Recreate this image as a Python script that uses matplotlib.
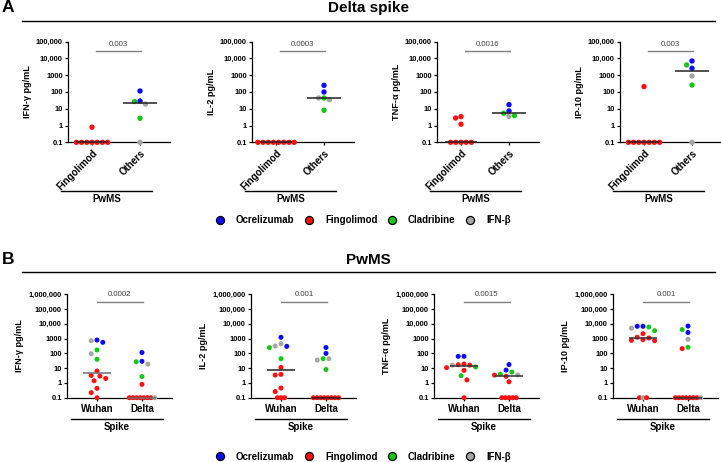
import numpy as np
import matplotlib
matplotlib.use('Agg')
import matplotlib.pyplot as plt
from matplotlib.lines import Line2D
import matplotlib.transforms as mtransforms

plt.rcParams['font.family'] = ['Liberation Sans', 'DejaVu Sans']

# ---------------- data ----------------
drug_codes = ['O', 'F', 'C', 'I']
drug_names = ['Ocrelizumab', 'Fingolimod', 'Cladribine', 'IFN-β']
drug_colors = ['#0a0aff', '#ff1010', '#16c816', '#a6a6a6']

cytokines = ['IFN-γ', 'IL-2', 'TNF-α', 'IP-10']
a_groups = ['Fingolimod', 'Others']
b_groups = ['Wuhan', 'Delta']
a_pvalues = ['0.003', '0.0003', '0.0016', '0.003']
b_pvalues = ['0.0002', '0.001', '0.0015', '0.001']

# Panel A: Delta spike (Fingolimod vs Others)
ifng_fingo = [0.8, 0.1, 0.1, 0.1, 0.1, 0.1, 0.1, 0.1]
ifng_others = [115, 29, 27, 19, 2.7, 0.1]
ifng_others_drug = ['O', 'O', 'C', 'I', 'C', 'I']

il2_fingo = [0.1, 0.1, 0.1, 0.1, 0.1, 0.1, 0.1, 0.1]
il2_others = [250, 100, 44, 44, 35, 8.1]
il2_others_drug = ['O', 'O', 'C', 'I', 'I', 'C']

tnf_fingo = [3.4, 2.8, 1.2, 0.1, 0.1, 0.1, 0.1, 0.1]
tnf_others = [17.6, 7.4, 5.4, 3.9, 3.5]
tnf_others_drug = ['O', 'O', 'C', 'C', 'I']

ip10_fingo = [210, 0.1, 0.1, 0.1, 0.1, 0.1, 0.1, 0.1]
ip10_others = [7100, 4100, 2600, 900, 260, 0.1]
ip10_others_drug = ['O', 'C', 'O', 'I', 'C', 'I']

# Panel B: Wuhan spike (Delta spike = panel A values pooled)
ifng_wuhan = [800, 720, 560, 170, 95, 40, 6.4, 3.2, 2.9, 2.0, 1.4, 0.43, 0.22, 0.1]
ifng_wuhan_drug = ['O', 'I', 'O', 'C', 'I', 'C', 'F', 'F', 'F', 'F', 'F', 'F', 'F', 'F']

il2_wuhan = [1230, 450, 316, 300, 245, 44, 11.3, 3.8, 3.4, 0.45, 0.26, 0.1, 0.1, 0.1]
il2_wuhan_drug = ['O', 'I', 'I', 'O', 'C', 'C', 'F', 'F', 'F', 'F', 'F', 'F', 'F', 'F']

tnf_wuhan = [63, 63, 19, 17, 16, 16, 12, 10.8, 7.1, 3.1, 1.6, 0.1]
tnf_wuhan_drug = ['O', 'O', 'F', 'F', 'F', 'I', 'C', 'F', 'F', 'C', 'F', 'F']

ip10_wuhan = [6800, 6800, 6100, 5000, 3450, 2150, 1230, 1100, 850, 760, 720, 0.1, 0.1, 0.1]
ip10_wuhan_drug = ['O', 'O', 'C', 'I', 'C', 'F', 'F', 'F', 'F', 'F', 'F', 'F', 'I', 'F']

a_data = [
    (ifng_fingo, ifng_others, ifng_others_drug),
    (il2_fingo, il2_others, il2_others_drug),
    (tnf_fingo, tnf_others, tnf_others_drug),
    (ip10_fingo, ip10_others, ip10_others_drug),
]
b_wuhan = [
    (ifng_wuhan, ifng_wuhan_drug),
    (il2_wuhan, il2_wuhan_drug),
    (tnf_wuhan, tnf_wuhan_drug),
    (ip10_wuhan, ip10_wuhan_drug),
]

color_of = dict(zip(drug_codes, drug_colors))
FLOOR = 0.1

# ---------------- figure ----------------
W, H = 721, 462
fig = plt.figure(figsize=(W / 100, H / 100), dpi=100)


def fx(px):
    return px / W


def fy(py):
    return 1 - py / H


def make_ax(left, width, top, bottom):
    return fig.add_axes([fx(left), fy(bottom), width / W, (bottom - top) / H])


def swarm(ax, xc, vals, min_dist, step, floor_sp):
    """Beeswarm layout in pixel space; values on the axis floor form a centred row."""
    vals = np.asarray(vals, dtype=float)
    pts = ax.transData.transform(np.column_stack([np.full(len(vals), xc), vals]))
    xs = pts[:, 0].copy()
    floor_idx = [i for i in range(len(vals)) if vals[i] <= FLOOR]
    n = len(floor_idx)
    for k, i in enumerate(floor_idx):
        xs[i] = pts[i, 0] + (k - (n - 1) / 2) * floor_sp
    rest = [i for i in np.argsort(-vals, kind='stable') if vals[i] > FLOOR]
    cands = [0]
    for m in range(1, 80):
        cands += [-m, m]
    placed = []
    for i in rest:
        px, py = pts[i]
        x = px
        for c in cands:
            x = px + c * step
            if all((x - qx) ** 2 + (py - qy) ** 2 >= min_dist ** 2 - 1e-6 for qx, qy in placed):
                break
        placed.append((x, py))
        xs[i] = x
    back = ax.transData.inverted().transform(np.column_stack([xs, pts[:, 1]]))
    return back[:, 0]


def yfmt(v):
    if v < 1:
        return '0.1'
    if v < 10000:
        return '%d' % v
    return '{:,}'.format(int(v))


def style_axis(ax, ymax, ylabel):
    ax.set_yscale('log')
    ax.set_ylim(FLOOR, ymax)
    ticks = [10.0 ** k for k in range(-1, int(round(np.log10(ymax))) + 1)]
    ax.set_yticks(ticks)
    ax.set_yticklabels([yfmt(t) for t in ticks], fontsize=5.4, fontweight='bold')
    ax.yaxis.set_minor_locator(matplotlib.ticker.NullLocator())
    ax.tick_params(axis='y', length=2.5, width=0.9, pad=1.2)
    ax.tick_params(axis='x', length=2, width=0.9)
    for s in ['top', 'right']:
        ax.spines[s].set_visible(False)
    for s in ['left', 'bottom']:
        ax.spines[s].set_linewidth(0.9)
        ax.spines[s].set_zorder(1)
    ax.set_ylabel(ylabel + ' pg/mL', fontsize=6.6, fontweight='bold', labelpad=3)
    ax.patch.set_alpha(0)


def draw_group(ax, xc, vals, drugs, s, min_dist, step, floor_sp, half, mcol):
    xs = swarm(ax, xc, vals, min_dist, step, floor_sp)
    cols = [color_of[d] for d in drugs]
    ax.scatter(xs, vals, s=s, c=cols, linewidths=0, clip_on=False, zorder=3)
    med = np.median(vals)
    ax.plot([xc - half, xc + half], [med, med], color=mcol, lw=1.1, zorder=4,
            clip_on=False, solid_capstyle='butt')


def sig_bar(ax, x0, x1, ybar, ytxt, txt):
    tr = mtransforms.blended_transform_factory(ax.transData, ax.transAxes)
    ax.plot([x0, x1], [ybar, ybar], color='#7f7f7f', lw=1.0, transform=tr, clip_on=False)
    ax.text((x0 + x1) / 2, ytxt, txt, transform=tr, ha='center', va='center',
            fontsize=5.6, color='#404040')


def legend_at(ypx):
    handles = [Line2D([], [], marker='o', ls='none', markersize=5.8, markerfacecolor=c,
                      markeredgecolor='black', markeredgewidth=0.9) for c in drug_colors]
    leg = fig.legend(handles, drug_names, loc='center', bbox_to_anchor=(fx(363), fy(ypx)),
                     ncol=4, frameon=False, handlelength=1.0, handletextpad=1.15,
                     columnspacing=1.0, borderpad=0, prop={'weight': 'bold', 'size': 7})
    return leg


def header(letter, title, ytxt, yline):
    fig.text(fx(2), fy(ytxt), letter, fontsize=12.5, fontweight='bold', ha='left', va='center')
    fig.text(fx(368.5), fy(ytxt), title, fontsize=11, fontweight='bold', ha='center', va='center')
    fig.add_artist(Line2D([fx(22), fx(715)], [fy(yline), fy(yline)], color='black', lw=1.0))


# ---------------- Panel A ----------------
header('A', 'Delta spike', 8, 20.5)
a_lefts = [68, 252, 437, 620]
for i, (cyt, (fv, ov, od)) in enumerate(zip(cytokines, a_data)):
    ax = make_ax(a_lefts[i], 102, 41.7, 142.3)
    ax.set_xlim(-0.5, 1.625)
    style_axis(ax, 1e5, cyt)
    draw_group(ax, 0, fv, ['F'] * len(fv), 15, 5.4, 2.7, 5.2, 0.33, '#222222')
    draw_group(ax, 1, ov, od, 15, 5.4, 2.7, 5.2, 0.36, '#222222')
    ax.set_xticks([0, 1])
    ax.set_xticklabels(a_groups, rotation=45, ha='right', rotation_mode='anchor',
                       fontsize=7, fontweight='bold')
    ax.tick_params(axis='x', pad=2)
    sig_bar(ax, 0.08, 1.02, 0.907, 0.977, a_pvalues[i])
    ax.plot([-0.069, 0.824], [-0.484, -0.484], transform=ax.transAxes, color='black',
            lw=1.0, clip_on=False)
    ax.text(0.378, -0.565, 'PwMS', transform=ax.transAxes, ha='center', va='center',
            fontsize=7, fontweight='bold')
legend_at(220)

# ---------------- Panel B ----------------
header('B', 'PwMS', 259.5, 272.3)
b_lefts = [67, 251, 434, 613]
b_mcols = ['#6e6e6e', '#222222', '#333333', '#333333']
for i, (cyt, (wv, wd), (fv, ov, od)) in enumerate(zip(cytokines, b_wuhan, a_data)):
    ax = make_ax(b_lefts[i], 105, 294.3, 397.7)
    ax.set_xlim(-0.667, 1.667)
    style_axis(ax, 1e6, cyt)
    dv = list(fv) + list(ov)
    dd = ['F'] * len(fv) + list(od)
    draw_group(ax, 0, wv, wd, 13, 5.8, 2.9, 3.6, 0.32, b_mcols[i])
    draw_group(ax, 1, dv, dd, 13, 5.8, 2.9, 3.6, 0.32, b_mcols[i])
    ax.set_xticks([0, 1])
    ax.set_xticklabels(b_groups, fontsize=7, fontweight='bold')
    ax.tick_params(axis='x', pad=2.5)
    sig_bar(ax, 0.0, 1.02, 0.928, 1.0, b_pvalues[i])
    ax.plot([0.038, 0.914], [-0.206, -0.206], transform=ax.transAxes, color='black',
            lw=1.0, clip_on=False)
    ax.text(0.476, -0.283, 'Spike', transform=ax.transAxes, ha='center', va='center',
            fontsize=7, fontweight='bold')
legend_at(456.5)

fig.savefig('out.png', dpi=100)
